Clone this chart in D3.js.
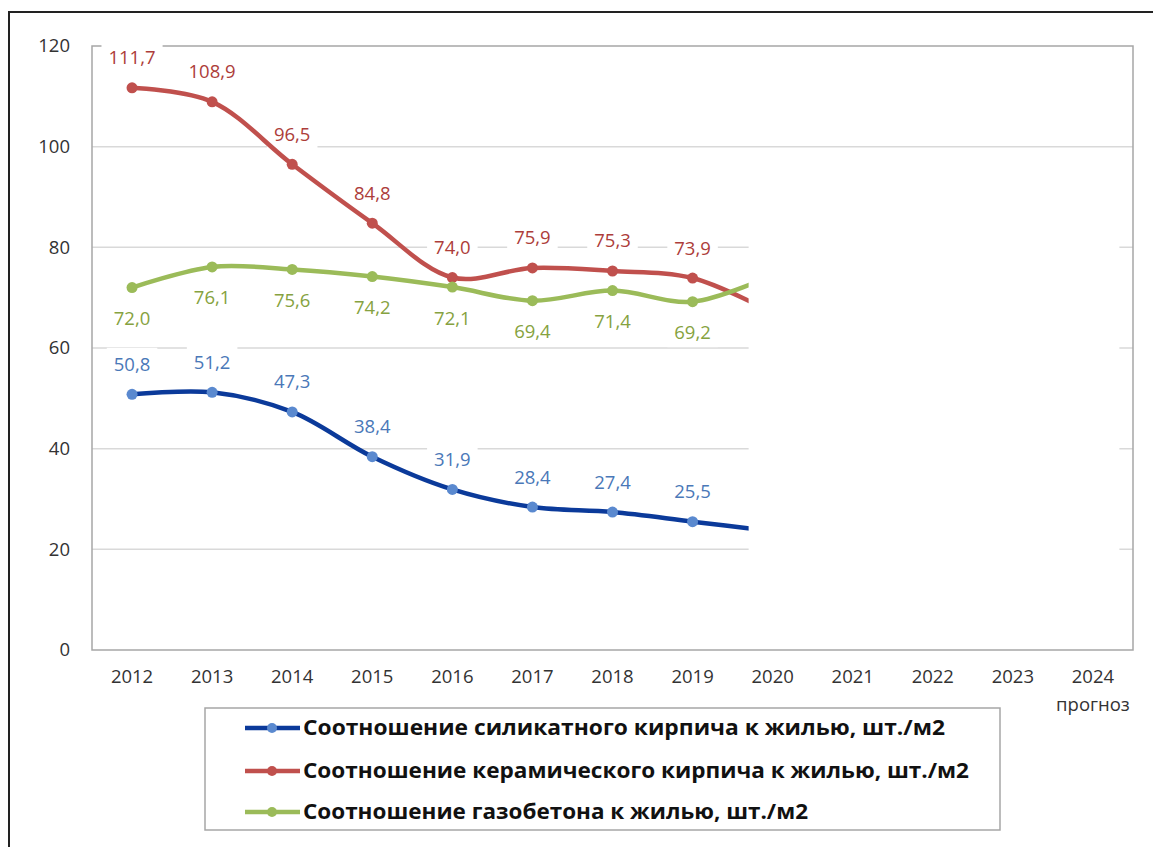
<!DOCTYPE html>
<html><head><meta charset="utf-8">
<script src="https://cdn.jsdelivr.net/npm/d3@7"></script>
<style>body{margin:0;background:#fff}svg{display:block}</style>
</head><body>
<svg id="c" width="1153" height="847"></svg>
<script>
const years = ["2012","2013","2014","2015","2016","2017","2018","2019","2020","2021","2022","2023","2024"];
const yTicks = [0,20,40,60,80,100,120];
const silicate = [50.8,51.2,47.3,38.4,31.9,28.4,27.4,25.5,23.6];
const ceramic  = [111.7,108.9,96.5,84.8,74.0,75.9,75.3,73.9,67.0];
const gasconc  = [72.0,76.1,75.6,74.2,72.1,69.4,71.4,69.2,74.5];
const labelCount = 8; // values printed on the chart (2012-2019)
const seriesNames = [
  "Соотношение силикатного кирпича к жилью, шт./м2",
  "Соотношение керамического кирпича к жилью, шт./м2",
  "Соотношение газобетона к жилью, шт./м2"
];
const forecastNote = "прогноз";

const series = [
  {name: seriesNames[0], values: silicate, line:"#0b3a9a", marker:"#5a89cf", label:"#4a78b8", pos:"above"},
  {name: seriesNames[1], values: ceramic,  line:"#c0504d", marker:"#c0504d", label:"#ad3d3a", pos:"above"},
  {name: seriesNames[2], values: gasconc,  line:"#9bbb59", marker:"#9bbb59", label:"#86a240", pos:"below"}
];

const svg = d3.select("#c");
const font = "'Open Sans', 'Noto Sans', sans-serif";
const L = 92, R = 1133, T = 46, B = 650;
const x = d3.scalePoint().domain(years).range([L, R]).padding(0.5);
const y = d3.scaleLinear().domain([0,120]).range([B, T]);
const step = x.step();
const fs = 18.5;

// outer frame
svg.append("path").attr("d", `M9,847V12H1153`).attr("fill","none").attr("stroke","#222").attr("stroke-width",2);

// gridlines
svg.append("g").selectAll("line").data(yTicks.filter(d=>d>0 && d<120)).join("line")
  .attr("x1", L).attr("x2", R).attr("y1", d=>y(d)).attr("y2", d=>y(d))
  .attr("stroke","#d9d9d9").attr("stroke-width",1.5);

// plot border
svg.append("rect").attr("x",L).attr("y",T).attr("width",R-L).attr("height",B-T)
  .attr("fill","none").attr("stroke","#a6a6a6").attr("stroke-width",1.5);

// y tick labels
svg.append("g").selectAll("text").data(yTicks).join("text")
  .attr("x", 70).attr("y", d=>y(d)).attr("dy","0.35em").attr("text-anchor","end")
  .attr("font-family", font).attr("font-size",fs).attr("fill","#333").text(d=>d);

// x tick labels
svg.append("g").selectAll("text").data(years).join("text")
  .attr("x", d=>x(d)).attr("y", 677).attr("dy","0.35em").attr("text-anchor","middle")
  .attr("font-family", font).attr("font-size",fs).attr("fill","#333").text(d=>d);
svg.append("text").attr("x", x("2024")).attr("y", 705).attr("dy","0.35em").attr("text-anchor","middle")
  .attr("font-family", font).attr("font-size",fs).attr("fill","#333").text(forecastNote);

// data label layers: backgrounds go under the lines
const bgLayer = svg.append("g");
const lineLayer = svg.append("g");
const patchLayer = svg.append("g");
const markLayer = svg.append("g");
const textLayer = svg.append("g");

// lines
const line = d3.line().x((d,i)=>x(years[i])).y(d=>y(d)).curve(d3.curveCatmullRom.alpha(0.5));
series.forEach(s=>{
  lineLayer.append("path").attr("d", line(s.values)).attr("fill","none")
    .attr("stroke", s.line).attr("stroke-width",4.5).attr("stroke-linecap","butt");
});

// white patch hiding the unfinished part of the chart
patchLayer.append("rect")
  .attr("x", x("2019") + step*0.7).attr("y", y(85))
  .attr("width", (x("2024") + step*0.33) - (x("2019") + step*0.7))
  .attr("height", y(14) - y(85)).attr("fill","#fff");

// markers
series.forEach(s=>{
  markLayer.append("g").selectAll("circle").data(s.values.slice(0,labelCount)).join("circle")
    .attr("cx",(d,i)=>x(years[i])).attr("cy",d=>y(d)).attr("r",5.5).attr("fill",s.marker);
});

// data labels
const fmt = d => d.toFixed(1).replace(".", ",");
series.forEach(s=>{
  s.values.slice(0,labelCount).forEach((v,i)=>{
    const cx = x(years[i]);
    const cy = y(v) + (s.pos==="above" ? -30 : 31);
    const t = textLayer.append("text").attr("x",cx).attr("y",cy).attr("dy","0.35em").attr("text-anchor","middle")
      .attr("font-family",font).attr("font-size",fs).attr("fill",s.label).text(fmt(v));
    const bb = t.node().getBBox();
    bgLayer.append("rect").attr("fill","#fff")
      .attr("x",bb.x-7).attr("y",bb.y-3).attr("width",bb.width+14).attr("height",bb.height+6);
  });
});

// legend
svg.append("rect").attr("x",205).attr("y",708).attr("width",795).attr("height",122)
  .attr("fill","#fff").attr("stroke","#a6a6a6").attr("stroke-width",1.5);
const ly = [728, 771, 812];
const lw = [642, 666, 505];
series.forEach((s,i)=>{
  svg.append("line").attr("x1",245).attr("x2",300).attr("y1",ly[i]).attr("y2",ly[i])
    .attr("stroke",s.line).attr("stroke-width",4.5);
  svg.append("circle").attr("cx",272).attr("cy",ly[i]).attr("r",5).attr("fill",s.marker);
  svg.append("text").attr("x",303).attr("y",ly[i]).attr("dy","0.35em")
    .attr("font-family",font).attr("font-weight","bold").attr("font-size",21).attr("fill","#111")
    .attr("textLength", lw[i]).attr("lengthAdjust","spacingAndGlyphs").text(s.name);
});
</script>
</body></html>
